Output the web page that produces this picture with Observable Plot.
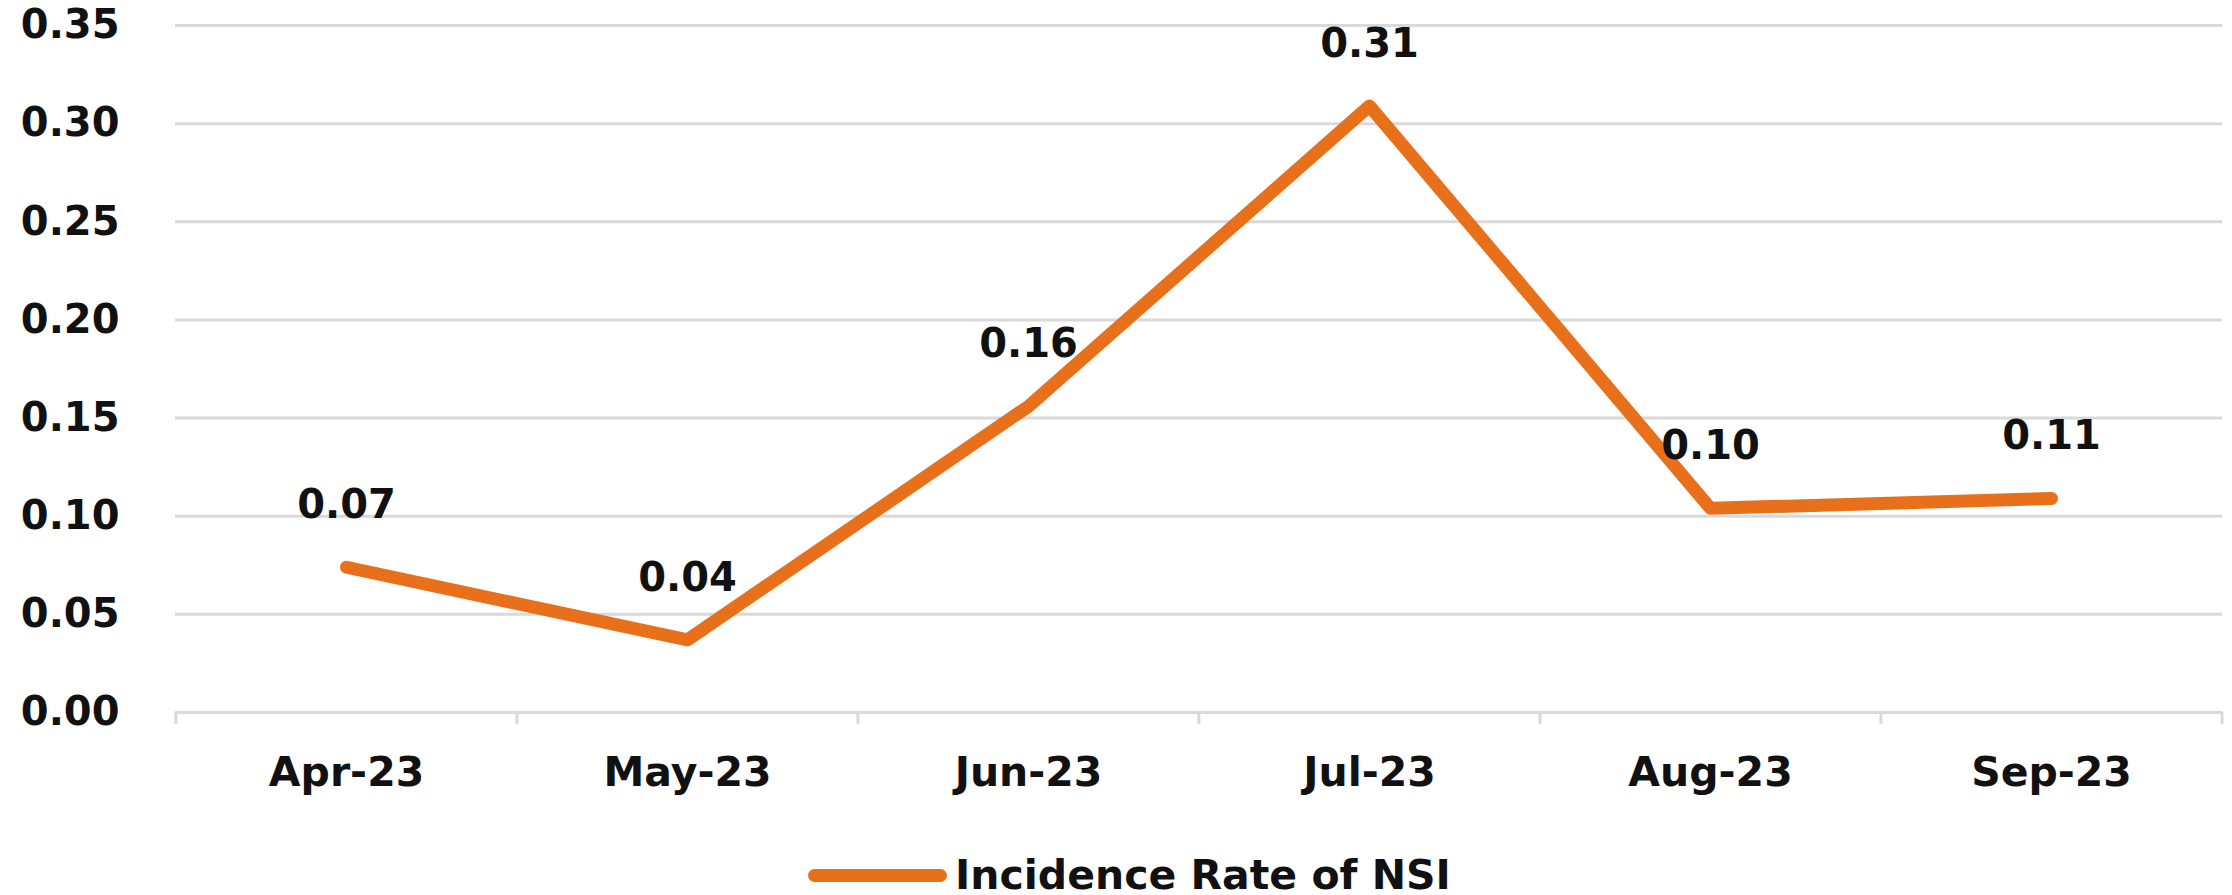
<!DOCTYPE html>
<html>
<head>
<meta charset="utf-8">
<script src="https://cdn.jsdelivr.net/npm/d3@7"></script>
<script src="https://cdn.jsdelivr.net/npm/@observablehq/plot@0.6"></script>
<style>
  html, body { margin: 0; padding: 0; background: #fff; overflow: hidden; }
  #chart svg { display: block; }
  #legend {
    display: flex;
    align-items: center;
    height: 65px;
    margin-top: 13px;
    padding-left: 808px;
  }
  #legend .swatch {
    width: 139px;
    height: 13px;
    border-radius: 7px;
    background: #E8701A;
  }
  #legend .lbl {
    margin-left: 8px;
    font: bold 41px "DejaVu Sans", sans-serif;
    line-height: 1;
    color: #111;
    white-space: nowrap;
  }
</style>
</head>
<body>
<div id="chart"></div>
<div id="legend"><span class="swatch"></span><span class="lbl"></span></div>
<script>
// Monthly incidence rate of needle-stick injuries (NSI)
const months = ["Apr-23", "May-23", "Jun-23", "Jul-23", "Aug-23", "Sep-23"];
const rates = [0.074, 0.037, 0.156, 0.309, 0.104, 0.109];
const yTicks = [0, 0.05, 0.10, 0.15, 0.20, 0.25, 0.30, 0.35];
const seriesName = "Incidence Rate of NSI";

const lineColor = "#E8701A";
const gridColor = "#d9d9d9";
const textColor = "#111";

const data = months.map((m, i) => ({month: m, rate: rates[i]}));

const W = 2232, H = 830;
const mLeft = 175, mRight = 10, mTop = 25, mBottom = 118;
const step = (W - mLeft - mRight) / months.length;
const fmt = d3.format(".2f");

const chart = Plot.plot({
  width: W,
  height: H,
  marginLeft: mLeft,
  marginRight: mRight,
  marginTop: mTop,
  marginBottom: mBottom,
  style: {fontFamily: "'DejaVu Sans', sans-serif", color: textColor, background: "#fff", overflow: "visible"},
  x: {type: "point", domain: months, padding: 0.5},
  y: {domain: [0, 0.35]},
  marks: [
    Plot.gridY(yTicks, {stroke: gridColor, strokeOpacity: 1, strokeWidth: 3}),
    Plot.axisY(yTicks, {tickSize: 0, tickPadding: 56, tickFormat: fmt, fontSize: 40, fontWeight: "bold", fill: textColor, label: null}),
    // category boundary ticks below the baseline
    Plot.axisX(months, {tickSize: 12, dx: -step / 2, stroke: gridColor, strokeWidth: 3, tickFormat: () => "", label: null}),
    Plot.axisX([months[months.length - 1]], {tickSize: 12, dx: step / 2, stroke: gridColor, strokeWidth: 3, tickFormat: () => "", label: null}),
    // month labels
    Plot.axisX(months, {tickSize: 0, tickPadding: 44, fontSize: 41, fontWeight: "bold", fill: textColor, label: null}),
    Plot.line(data, {x: "month", y: "rate", stroke: lineColor, strokeWidth: 13, strokeLinecap: "round", strokeLinejoin: "round"}),
    Plot.text(data, {x: "month", y: "rate", text: d => fmt(d.rate), dy: -62, fontSize: 40, fontWeight: "bold", fill: textColor})
  ]
});

document.getElementById("chart").appendChild(chart);
document.querySelector("#legend .lbl").textContent = seriesName;
document.querySelector("#legend .swatch").style.background = lineColor;
</script>
</body>
</html>
